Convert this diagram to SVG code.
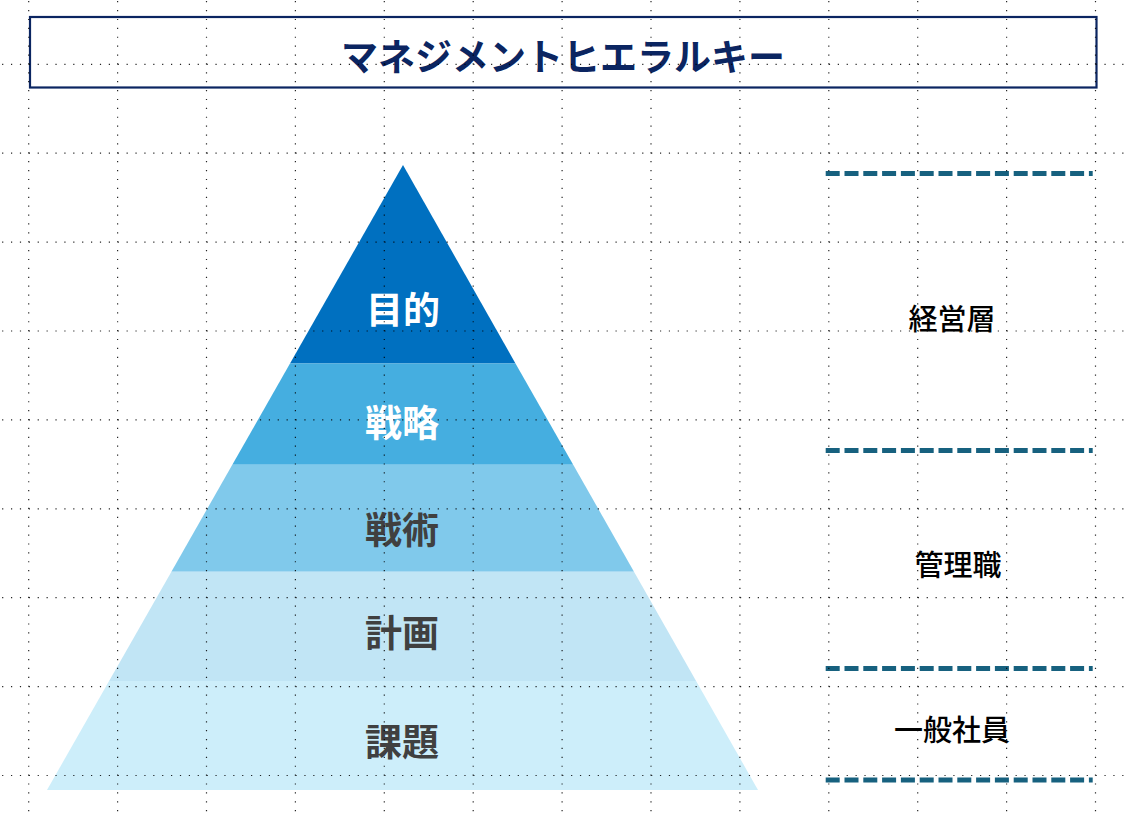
<svg xmlns="http://www.w3.org/2000/svg" width="1126" height="818" viewBox="0 0 1126 818">
<style>
.title{font-family:"Noto Sans CJK JP","Noto Sans",sans-serif;font-size:37px;font-weight:700;fill:#0B2561;text-anchor:middle;dominant-baseline:central}
.lvl{font-family:"Noto Sans CJK JP","Noto Sans",sans-serif;font-size:37px;font-weight:700;text-anchor:middle;dominant-baseline:central}
.dark{fill:#404040}
.light{fill:#FFFFFF}
.side{font-family:"Noto Sans CJK JP","Noto Sans",sans-serif;font-size:29px;font-weight:500;fill:#000000;text-anchor:middle;dominant-baseline:central}
.sep{stroke:#17617F;stroke-width:5;stroke-dasharray:14 4.8;fill:none}
.gv{stroke:#000;stroke-width:1.2;stroke-dasharray:1.2 7.69}
.gh{stroke:#000;stroke-width:1.2;stroke-dasharray:1.2 7.69}
</style>
<rect width="1126" height="818" fill="#FFFFFF"/>
<g id="title">
<rect x="30" y="17" width="1066.5" height="70.5" fill="none" stroke="#0B2561" stroke-width="2.2"/>
<text class="title" x="563" y="55">マネジメントヒエラルキー</text>
</g>
<g id="layer-mokuteki">
<polygon points="403,165 515.5,363.5 290,363.5" fill="#0070C0"/>
<text class="lvl light" x="403" y="308">目的</text>
</g>
<g id="layer-senryaku">
<polygon points="290,363.5 515.5,363.5 573.2,464.7 232.3,464.7" fill="#45AEE0"/>
<text class="lvl light" x="402" y="421">戦略</text>
</g>
<g id="layer-senjutsu">
<polygon points="232.3,464.7 573.2,464.7 634,571.7 171.4,571.7" fill="#80C9EB"/>
<text class="lvl dark" x="402" y="528">戦術</text>
</g>
<g id="layer-keikaku">
<polygon points="171.4,571.7 634,571.7 696.1,681 109.1,681" fill="#C1E5F5"/>
<text class="lvl dark" x="402" y="631">計画</text>
</g>
<g id="layer-kadai">
<polygon points="109.1,681 696.1,681 758,790 47,790" fill="#CDEEFA"/>
<text class="lvl dark" x="402" y="740">課題</text>
</g>
<g id="separators">
<line class="sep" x1="825.7" y1="173.5" x2="1092.7" y2="173.5"/>
<line class="sep" x1="825.7" y1="450.5" x2="1092.7" y2="450.5"/>
<line class="sep" x1="825.7" y1="668.5" x2="1092.7" y2="668.5"/>
<line class="sep" x1="825.7" y1="780" x2="1092.7" y2="780"/>
</g>
<g id="label-keieiso">
<text class="side" x="952" y="317">経営層</text>
</g>
<g id="label-kanrishoku">
<text class="side" x="958" y="563">管理職</text>
</g>
<g id="label-ippanshain">
<text class="side" x="952" y="728">一般社員</text>
</g>
<g id="grid" opacity="0.85">
<line class="gv" x1="28.7" y1="1.1" x2="28.7" y2="818"/>
<line class="gv" x1="117.6" y1="1.1" x2="117.6" y2="818"/>
<line class="gv" x1="206.5" y1="1.1" x2="206.5" y2="818"/>
<line class="gv" x1="295.4" y1="1.1" x2="295.4" y2="818"/>
<line class="gv" x1="384.3" y1="1.1" x2="384.3" y2="818"/>
<line class="gv" x1="473.2" y1="1.1" x2="473.2" y2="818"/>
<line class="gv" x1="562.1" y1="1.1" x2="562.1" y2="818"/>
<line class="gv" x1="651" y1="1.1" x2="651" y2="818"/>
<line class="gv" x1="739.9" y1="1.1" x2="739.9" y2="818"/>
<line class="gv" x1="828.8" y1="1.1" x2="828.8" y2="818"/>
<line class="gv" x1="917.7" y1="1.1" x2="917.7" y2="818"/>
<line class="gv" x1="1006.6" y1="1.1" x2="1006.6" y2="818"/>
<line class="gv" x1="1095.5" y1="1.1" x2="1095.5" y2="818"/>
<line class="gh" x1="2.1" y1="64.3" x2="1126" y2="64.3"/>
<line class="gh" x1="2.1" y1="153.2" x2="1126" y2="153.2"/>
<line class="gh" x1="2.1" y1="242.1" x2="1126" y2="242.1"/>
<line class="gh" x1="2.1" y1="331" x2="1126" y2="331"/>
<line class="gh" x1="2.1" y1="419.9" x2="1126" y2="419.9"/>
<line class="gh" x1="2.1" y1="508.8" x2="1126" y2="508.8"/>
<line class="gh" x1="2.1" y1="597.7" x2="1126" y2="597.7"/>
<line class="gh" x1="2.1" y1="686.6" x2="1126" y2="686.6"/>
<line class="gh" x1="2.1" y1="775.5" x2="1126" y2="775.5"/>
</g>
</svg>
